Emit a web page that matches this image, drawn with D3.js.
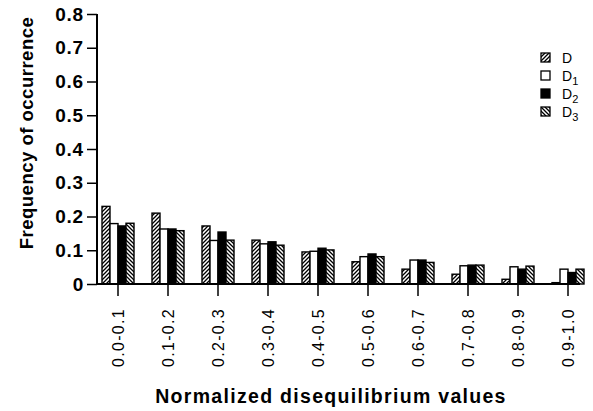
<!DOCTYPE html>
<html>
<head>
<meta charset="utf-8">
<script src="https://cdn.jsdelivr.net/npm/d3@7"></script>
<style>
body { margin: 0; background: #fff; }
svg { font-family: "Liberation Sans", Arial, sans-serif; }
</style>
</head>
<body>
<div class="chart"></div>
<script>
// Frequency of occurrence per normalized disequilibrium bin

var categories = ["0.0-0.1", "0.1-0.2", "0.2-0.3", "0.3-0.4", "0.4-0.5",
                  "0.5-0.6", "0.6-0.7", "0.7-0.8", "0.8-0.9", "0.9-1.0"];
var seriesNames = ["D", "D1", "D2", "D3"];
var valuesD  = [0.230, 0.210, 0.172, 0.130, 0.095, 0.066, 0.044, 0.029, 0.014, 0.004];
var valuesD1 = [0.179, 0.163, 0.129, 0.119, 0.097, 0.081, 0.071, 0.054, 0.051, 0.044];
var valuesD2 = [0.172, 0.163, 0.154, 0.125, 0.106, 0.089, 0.071, 0.056, 0.044, 0.034];
var valuesD3 = [0.180, 0.158, 0.130, 0.115, 0.101, 0.081, 0.064, 0.056, 0.053, 0.044];
var yTicks = [0, 0.1, 0.2, 0.3, 0.4, 0.5, 0.6, 0.7, 0.8];

var svgWidth = 593;
var svgHeight = 411;

var svg = d3.select(".chart")
    .append("svg")
    .attr("width", svgWidth)
    .attr("height", svgHeight);

// hatch patterns
var defs = svg.append("defs");

function hatch(id, d) {
    var p = defs.append("pattern")
        .attr("id", id)
        .attr("patternUnits", "userSpaceOnUse")
        .attr("width", 4)
        .attr("height", 4);
    p.append("rect").attr("width", 4).attr("height", 4).attr("fill", "#fff");
    p.append("path")
        .attr("d", d)
        .attr("stroke", "#000")
        .attr("stroke-width", 1.3);
}
hatch("fwd", "M-1,1 l2,-2 M0,4 l4,-4 M3,5 l2,-2");
hatch("back", "M-1,3 l2,2 M0,0 l4,4 M3,-1 l2,2");

var fills = ["url(#fwd)", "#fff", "#000", "url(#back)"];
var data = categories.map(function(c, i) {
    return { cat: c, vals: [valuesD[i], valuesD1[i], valuesD2[i], valuesD3[i]] };
});

// scales
var xScale = d3.scaleBand()
    .domain(categories)
    .range([93, 593]);

var xInner = d3.scaleBand()
    .domain(seriesNames)
    .range([0, 32]);

var yScale = d3.scaleLinear()
    .domain([0, 0.8])
    .range([284, 14]);

// bars
var groups = svg.selectAll(".group")
    .data(data)
    .enter()
    .append("g")
    .attr("class", "group")
    .attr("transform", function(d) {
        return "translate(" + (xScale(d.cat) + xScale.bandwidth() / 2 - 16) + ",0)";
    });

groups.selectAll("rect")
    .data(function(d) { return d.vals; })
    .enter()
    .append("rect")
    .attr("x", function(v, i) { return xInner(seriesNames[i]); })
    .attr("y", function(v) { return yScale(v); })
    .attr("width", xInner.bandwidth())
    .attr("height", function(v) { return yScale(0) - yScale(v); })
    .attr("fill", function(v, i) { return fills[i]; })
    .attr("stroke", "#000")
    .attr("stroke-width", 1.4);

// axes
var leftAxis = d3.axisLeft(yScale)
    .tickValues(yTicks)
    .tickSize(10)
    .tickPadding(3)
    .tickFormat(function(d) { return d === 0 ? "0" : d3.format(".1f")(d); });

var yAxis = svg.append("g")
    .attr("transform", "translate(97,0)")
    .call(leftAxis);
yAxis.select(".domain").remove();
yAxis.append("line")
    .attr("x1", 0).attr("x2", 0)
    .attr("y1", yScale(0.8)).attr("y2", yScale(0) + 1)
    .attr("stroke", "#000").attr("stroke-width", 2);
yAxis.selectAll(".tick line").attr("stroke-width", 1.5);
yAxis.selectAll(".tick text")
    .attr("font-size", "19px")
    .attr("font-weight", "bold")
    .attr("letter-spacing", "0.8px")
    .attr("fill", "#000");

var bottomAxis = d3.axisBottom(xScale)
    .tickSize(12)
    .tickPadding(8);

var xAxis = svg.append("g")
    .attr("transform", "translate(0," + yScale(0) + ")")
    .call(bottomAxis);
xAxis.select(".domain").remove();
xAxis.append("line")
    .attr("x1", 96).attr("x2", 580)
    .attr("y1", 0).attr("y2", 0)
    .attr("stroke", "#000").attr("stroke-width", 2);
xAxis.selectAll(".tick line").attr("stroke-width", 1.5);
xAxis.selectAll(".tick text")
    .attr("transform", "rotate(-90)")
    .attr("x", -24)
    .attr("y", 0)
    .attr("dy", "0.35em")
    .attr("text-anchor", "end")
    .attr("font-size", "16px")
    .attr("letter-spacing", "1.3px")
    .attr("fill", "#000");

// axis titles
svg.append("text")
    .attr("transform", "translate(33," + 133 + ") rotate(-90)")
    .attr("text-anchor", "middle")
    .attr("font-size", "18.5px")
    .attr("font-weight", "bold")
    .attr("letter-spacing", "0.5px")
    .text("Frequency of occurrence");

svg.append("text")
    .attr("x", 331)
    .attr("y", 403)
    .attr("text-anchor", "middle")
    .attr("font-size", "19.5px")
    .attr("font-weight", "bold")
    .attr("letter-spacing", "1.3px")
    .text("Normalized disequilibrium values");

// legend
var legend = svg.append("g").attr("transform", "translate(541,53)");
var legendItems = legend.selectAll("g")
    .data(seriesNames)
    .enter()
    .append("g")
    .attr("transform", function(d, i) { return "translate(0," + (i * 18) + ")"; });

legendItems.append("rect")
    .attr("width", 9)
    .attr("height", 9)
    .attr("fill", function(d, i) { return fills[i]; })
    .attr("stroke", "#000")
    .attr("stroke-width", 1.3);

var lt = legendItems.append("text")
    .attr("x", 21)
    .attr("y", 9.5)
    .attr("font-size", "14px");
lt.append("tspan").text("D");
lt.filter(function(d) { return d !== "D"; })
    .append("tspan")
    .attr("dy", 4)
    .attr("font-size", "11px")
    .text(function(d) { return d.slice(1); });
</script>
</body>
</html>
